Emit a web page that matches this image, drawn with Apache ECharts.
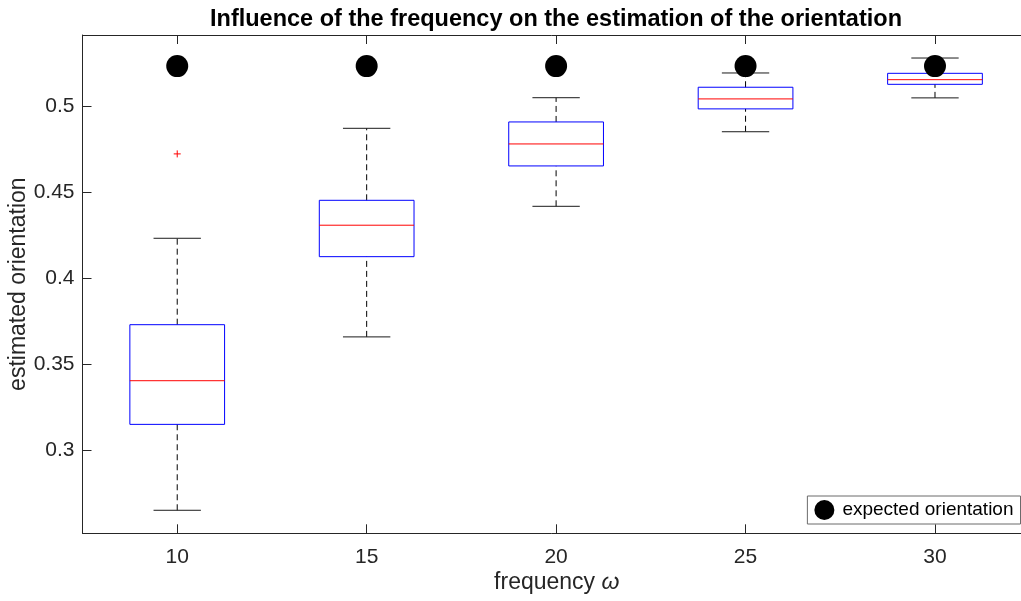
<!DOCTYPE html>
<html>
<head>
<meta charset="utf-8">
<script src="https://cdn.jsdelivr.net/npm/echarts@6/dist/echarts.min.js"></script>
<style>
  html, body { margin: 0; padding: 0; background: #fff; }
  #chart { width: 1021px; height: 601px; }
</style>
</head>
<body>
<div id="chart"></div>
<script>
const frequencies = [10, 15, 20, 25, 30]
const lowerWhisker = [0.2651, 0.366, 0.442, 0.4854, 0.5051]
const lowerQuartile = [0.3151, 0.4127, 0.4655, 0.4987, 0.513]
const medians = [0.3405, 0.431, 0.4783, 0.5045, 0.5157]
const upperQuartile = [0.3731, 0.4455, 0.4911, 0.5113, 0.5194]
const upperWhisker = [0.4234, 0.4874, 0.5052, 0.5196, 0.5283]
const outliers = [[10, 0.4725]]
const expectedOrientation = [0.5236, 0.5236, 0.5236, 0.5236, 0.5236]

const xTicks = [10, 15, 20, 25, 30]
const yTicks = [0.3, 0.35, 0.4, 0.45, 0.5]

const font = "'Liberation Sans', Arial, Helvetica, sans-serif"
const axisColor = '#262626'

const boxRows = frequencies.map((f, i) => [
  f, lowerWhisker[i], lowerQuartile[i], medians[i], upperQuartile[i], upperWhisker[i],
])

function renderBox(params, api) {
  const x = api.value(0)
  const halfBox = 1.25
  const halfCap = 0.625
  const p = (vx, vy) => api.coord([vx, vy])
  const line = (a, b, style) => ({
    type: 'line',
    shape: { x1: a[0], y1: a[1], x2: b[0], y2: b[1] },
    style,
  })
  const dashed = { stroke: '#000', lineWidth: 1, lineDash: [6, 4] }
  const solid = { stroke: '#1a1a1a', lineWidth: 1 }
  const tl = p(x - halfBox, api.value(4))
  const br = p(x + halfBox, api.value(2))
  return {
    type: 'group',
    children: [
      line(p(x, api.value(4)), p(x, api.value(5)), dashed),
      line(p(x, api.value(1)), p(x, api.value(2)), dashed),
      line(p(x - halfCap, api.value(5)), p(x + halfCap, api.value(5)), solid),
      line(p(x - halfCap, api.value(1)), p(x + halfCap, api.value(1)), solid),
      {
        type: 'rect',
        shape: { x: tl[0], y: tl[1], width: br[0] - tl[0], height: br[1] - tl[1] },
        style: { fill: 'none', stroke: '#0000ff', lineWidth: 1 },
      },
      line(p(x - halfBox, api.value(3)), p(x + halfBox, api.value(3)), { stroke: '#ff0000', lineWidth: 1 }),
    ],
  }
}

function renderPlus(params, api) {
  const c = api.coord([api.value(0), api.value(1)])
  const s = 3.5
  const style = { stroke: '#ff0000', lineWidth: 1 }
  return {
    type: 'group',
    children: [
      { type: 'line', shape: { x1: c[0] - s, y1: c[1], x2: c[0] + s, y2: c[1] }, style },
      { type: 'line', shape: { x1: c[0], y1: c[1] - s, x2: c[0], y2: c[1] + s }, style },
    ],
  }
}

// the plot box runs a little past the right edge of the page, so the
// visible x range stops short of 32.5
const baseX = {
  type: 'value',
  min: 7.5,
  max: 32.27,
  axisLine: { show: true, onZero: false, lineStyle: { color: axisColor, width: 1 } },
  axisTick: { show: true, inside: true, length: 9, customValues: xTicks, lineStyle: { color: axisColor } },
  splitLine: { show: false },
}

const chart = echarts.init(document.getElementById('chart'), null, { renderer: 'canvas' })

chart.setOption({
  animation: false,
  backgroundColor: '#fff',
  textStyle: { fontFamily: font },
  graphic: [
    {
      type: 'text',
      x: 556,
      y: 20,
      style: {
        text: 'Influence of the frequency on the estimation of the orientation',
        align: 'center',
        verticalAlign: 'middle',
        font: 'bold 23.5px ' + font,
        fill: '#000',
      },
    },
  ],
  grid: {
    left: 82.5,
    top: 35,
    width: 938.5,
    height: 498.3,
    containLabel: false,
    outerBoundsMode: 'none',
  },
  xAxis: [
    {
      ...baseX,
      position: 'bottom',
      axisLabel: {
        customValues: xTicks,
        margin: 13,
        color: axisColor,
        fontSize: 21,
        fontFamily: font,
      },
      name: '{a|frequency }{b|ω}',
      nameLocation: 'middle',
      nameGap: 38,
      nameMoveOverlap: false,
      nameTextStyle: {
        padding: [0, 0, 0, 10],
        rich: {
          a: { fontSize: 23, color: axisColor, fontFamily: font },
          b: { fontSize: 23, color: axisColor, fontFamily: font, fontStyle: 'italic' },
        },
      },
    },
    { ...baseX, position: 'top', axisLabel: { show: false } },
  ],
  yAxis: {
    type: 'value',
    min: 0.2517,
    max: 0.5417,
    position: 'left',
    axisLine: { show: true, onZero: false, lineStyle: { color: axisColor, width: 1 } },
    axisTick: { show: true, inside: true, length: 9, customValues: yTicks, lineStyle: { color: axisColor } },
    splitLine: { show: false },
    axisLabel: {
      customValues: yTicks,
      margin: 8,
      color: axisColor,
      fontSize: 21,
      fontFamily: font,
      formatter: (v) => String(+v.toFixed(2)),
    },
    name: 'estimated orientation',
    nameLocation: 'middle',
    nameGap: 52,
    nameMoveOverlap: false,
    nameTextStyle: { fontSize: 23, color: axisColor, fontFamily: font },
  },
  legend: {
    data: [{ name: 'expected orientation', icon: 'circle' }],
    right: 0.5,
    top: 496,
    orient: 'vertical',
    padding: [4, 7, 4, 7],
    itemWidth: 26,
    itemHeight: 20,
    borderColor: '#6b6b6b',
    borderWidth: 1,
    borderRadius: 0,
    backgroundColor: '#fff',
    textStyle: { fontSize: 19, color: '#000', fontFamily: font },
  },
  series: [
    {
      name: 'boxes',
      type: 'custom',
      renderItem: renderBox,
      data: boxRows,
      encode: { x: 0, y: [1, 2, 3, 4, 5] },
      z: 2,
    },
    {
      name: 'outliers',
      type: 'custom',
      renderItem: renderPlus,
      data: outliers,
      encode: { x: 0, y: 1 },
      z: 2,
    },
    {
      name: 'expected orientation',
      type: 'scatter',
      data: frequencies.map((f, i) => [f, expectedOrientation[i]]),
      symbol: 'circle',
      symbolSize: 22,
      itemStyle: { color: '#000', opacity: 1 },
      z: 5,
    },
  ],
})
</script>
</body>
</html>
